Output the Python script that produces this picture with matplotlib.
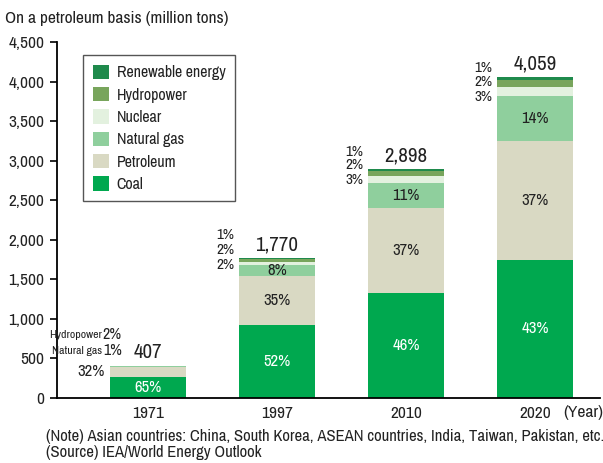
import matplotlib.pyplot as plt
from matplotlib.patches import Patch

plt.rcParams['font.family'] = ['Archivo Narrow', 'Roboto Condensed', 'Liberation Sans', 'DejaVu Sans']

years = ['1971', '1997', '2010', '2020']
totals = [407, 1770, 2898, 4059]

# million tons, oil equivalent
coal = [265, 920, 1333, 1745]
petroleum = [130, 620, 1072, 1502]
natural_gas = [4, 142, 319, 568]
nuclear = [0, 35, 87, 122]
hydropower = [8, 35, 58, 81]
renewable = [0, 18, 29, 41]

coal_pct = [65, 52, 46, 43]
pet_pct = [32, 35, 37, 37]
gas_pct = [1, 8, 11, 14]
nuc_pct = [0, 2, 3, 3]
hydro_pct = [2, 2, 2, 2]
ren_pct = [0, 1, 1, 1]

names = ['Coal', 'Petroleum', 'Natural gas', 'Nuclear', 'Hydropower', 'Renewable energy']
colors = ['#00a84f', '#d9d9c3', '#8fcf9d', '#e3f1df', '#78a55c', '#1f8a4c']
series = [coal, petroleum, natural_gas, nuclear, hydropower, renewable]
txt = '#222222'
px = 0.72  # points per pixel

fig = plt.figure(figsize=(6.03, 4.63), dpi=100)
ax = fig.add_axes([57/603, 65/463, 543/603, 356/463])

x = list(range(len(years)))
w = 0.59
bottom = [0]*4
for vals, c, n in zip(series, colors, names):
    ax.bar(x, vals, w, bottom=bottom, color=c, label=n, linewidth=0)
    bottom = [b + v for b, v in zip(bottom, vals)]

ax.set_ylim(0, 4500)
ax.set_xlim(-0.705, 3.504)
ax.set_yticks(range(0, 4501, 500))
ax.set_yticklabels([f'{v:,}' for v in range(0, 4501, 500)], fontsize=12.5, color=txt)
ax.set_xticks(x)
ax.set_xticklabels(years, fontsize=12.5, color=txt)
ax.tick_params(axis='x', length=0, pad=6)
ax.tick_params(axis='y', length=5, width=1.2, pad=4)
for s in ['top', 'right']:
    ax.spines[s].set_visible(False)
for s in ['left', 'bottom']:
    ax.spines[s].set_linewidth(1.3)

# labels inside the bars
for i in x:
    ax.text(i, coal[i]/2, f'{coal_pct[i]}%', ha='center', va='center', color='white', fontsize=12)
    if i > 0:
        ax.text(i, coal[i] + petroleum[i]/2, f'{pet_pct[i]}%', ha='center', va='center', color=txt, fontsize=12)
        ax.text(i, coal[i] + petroleum[i] + natural_gas[i]/2, f'{gas_pct[i]}%', ha='center', va='center', color=txt, fontsize=12)
    ax.annotate(f'{totals[i]:,}', (i, totals[i]), xytext=(0, 13*px), textcoords='offset points',
                ha='center', va='center', fontsize=15, color=txt)

# small shares to the left of the bars
side_offsets = [None, [23, 8, -7], [17, 4, -11], [9, -5, -20]]
for i in x[1:]:
    labs = [ren_pct[i], hydro_pct[i], nuc_pct[i]]
    for p, dy in zip(labs, side_offsets[i]):
        ax.annotate(f'{p}%', (i - w/2, totals[i]), xytext=(-5*px, dy*px), textcoords='offset points',
                    ha='right', va='center', fontsize=11, color=txt)

# 1971 side labels
ax.annotate(f'{pet_pct[0]}%', (0 - w/2, coal[0] + petroleum[0]/2), xytext=(-5*px, 0), textcoords='offset points',
            ha='right', va='center', fontsize=12, color=txt)
for name, p, dy in [('Natural gas', gas_pct[0], 15), ('Hydropower', hydro_pct[0], 31)]:
    ax.annotate(f'{p}%', (0 - w/2, totals[0]), xytext=(12*px, dy*px), textcoords='offset points',
                ha='right', va='center', fontsize=11.5, color=txt)
    ax.annotate(name, (0 - w/2, totals[0]), xytext=(-8*px, dy*px), textcoords='offset points',
                ha='right', va='center', fontsize=8.5, color=txt)

ax.annotate('(Year)', (1, 0), xycoords='axes fraction', xytext=(2, -15*px), textcoords='offset points',
            ha='right', va='center', fontsize=12.5, color=txt)

handles = [Patch(facecolor=c, edgecolor='none', label=n) for c, n in zip(colors, names)][::-1]
leg = ax.legend(handles=handles, loc='upper left', bbox_to_anchor=(26/543, 1 - 13/356), fontsize=11.5,
                handlelength=1.0, handleheight=1.0, handletextpad=0.5, labelspacing=0.42,
                borderpad=0.6, borderaxespad=0, fancybox=False, edgecolor='#555555', framealpha=1)
leg.get_frame().set_linewidth(1.0)
for t in leg.get_texts():
    t.set_color(txt)

fig.text(5/603, 1 - 18/463, 'On a petroleum basis (million tons)', ha='left', va='center', fontsize=12.5, color=txt)
fig.text(46/603, 1 - 437/463, '(Note) Asian countries: China, South Korea, ASEAN countries, India, Taiwan, Pakistan, etc.',
         ha='left', va='center', fontsize=12, color=txt)
fig.text(46/603, 1 - 453/463, '(Source) IEA/World Energy Outlook', ha='left', va='center', fontsize=12, color=txt)

fig.savefig('out.png', dpi=100)
